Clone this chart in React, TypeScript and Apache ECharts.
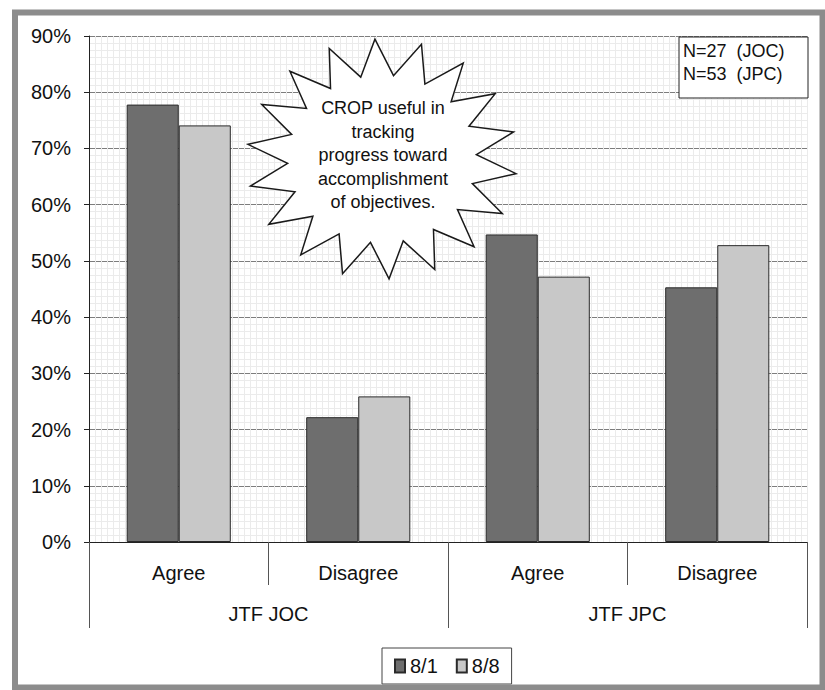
import React, { useEffect, useRef } from "react";
import * as echarts from "echarts";

const categories = ["JOC|Agree", "JOC|Disagree", "JPC|Agree", "JPC|Disagree"];
const groups = ["JTF JOC", "JTF JPC"];
const series81 = [77.8, 22.2, 54.7, 45.3];
const series88 = [74.1, 25.9, 47.2, 52.8];
const seriesNames = ["8/1", "8/8"];
const yTicks = { min: 0, max: 90, interval: 10 };
const calloutLines = ["CROP useful in", "tracking", "progress toward", "accomplishment", "of objectives."];
const noteLines = ["N=27  (JOC)", "N=53  (JPC)"];

const FONT = '"Liberation Sans", Arial, sans-serif';

function starPoints(cx: number, cy: number, rx: number, ry: number, n: number, inner: number, offsetDeg: number) {
  const pts: number[][] = [];
  for (let i = 0; i < n * 2; i++) {
    const a = ((-90 + offsetDeg + (i * 180) / n) * Math.PI) / 180;
    const r = i % 2 === 0 ? 1 : inner;
    pts.push([cx + rx * r * Math.cos(a), cy + ry * r * Math.sin(a)]);
  }
  return pts;
}

export default function App() {
  const ref = useRef<HTMLDivElement>(null);
  useEffect(() => {
    document.body.style.margin = "0";
    const chart = echarts.init(ref.current!, null, { renderer: "svg" });
    const option: any = {
      animation: false,
      backgroundColor: "#ffffff",
      grid: { left: 89, right: 18, top: 36, bottom: 148, containLabel: false, show: false },
      xAxis: [
        {
          type: "category",
          position: "bottom",
          data: categories,
          axisLine: { show: true, lineStyle: { color: "#222", width: 1 } },
          axisTick: { show: true, length: 43, interval: 0, lineStyle: { color: "#555" } },
          axisLabel: {
            margin: 21,
            fontSize: 20,
            color: "#111",
            fontFamily: FONT,
            interval: 0,
            formatter: (v: string) => v.split("|")[1],
          },
          splitLine: { show: false },
        },
        {
          type: "category",
          position: "bottom",
          data: groups,
          axisLine: { show: false },
          axisTick: { show: true, length: 86, interval: 0, lineStyle: { color: "#555" } },
          axisLabel: { margin: 62, fontSize: 20, color: "#111", fontFamily: FONT, interval: 0 },
          splitLine: { show: false },
        },
        {
          type: "value",
          position: "top",
          min: 0,
          max: 120,
          interval: 1,
          axisLine: { show: false },
          axisTick: { show: false },
          axisLabel: { show: false },
          splitLine: { show: true, lineStyle: { color: "#ebebeb", width: 1 } },
        },
      ],
      yAxis: {
        type: "value",
        min: yTicks.min,
        max: yTicks.max,
        interval: yTicks.interval,
        axisLine: { show: true, lineStyle: { color: "#222", width: 1 } },
        axisTick: { show: true, length: 5, lineStyle: { color: "#222" } },
        axisLabel: { formatter: "{value}%", fontSize: 20, color: "#111", fontFamily: FONT, margin: 18 },
        splitLine: { show: true, lineStyle: { color: "#7d7d7d", width: 1 } },
        minorTick: { show: false, splitNumber: 8 },
        minorSplitLine: { show: true, lineStyle: { color: "#ebebeb", width: 1 } },
      },
      legend: {
        data: seriesNames,
        left: 382,
        top: 648,
        orient: "horizontal",
        padding: [8, 12],
        itemGap: 18,
        itemWidth: 10,
        itemHeight: 13,
        icon: "rect",
        borderColor: "#444",
        borderWidth: 1,
        backgroundColor: "#fff",
        textStyle: { fontSize: 20, color: "#111", fontFamily: FONT },
      },
      series: [
        {
          name: seriesNames[0],
          type: "bar",
          xAxisIndex: 0,
          yAxisIndex: 0,
          data: series81,
          barGap: "0%",
          barCategoryGap: "42%",
          itemStyle: { color: "#6e6e6e", borderColor: "#2a2a2a", borderWidth: 1 },
          z: 3,
        },
        {
          name: seriesNames[1],
          type: "bar",
          xAxisIndex: 0,
          yAxisIndex: 0,
          data: series88,
          barGap: "0%",
          barCategoryGap: "42%",
          itemStyle: { color: "#c8c8c8", borderColor: "#2a2a2a", borderWidth: 1 },
          z: 3,
        },
      ],
      graphic: [
        {
          type: "rect",
          z: 200,
          shape: { x: 15, y: 12.5, width: 807.5, height: 675 },
          style: { fill: null, stroke: "#8c8c8c", lineWidth: 6 },
          silent: true,
        },
        {
          type: "polygon",
          z: 100,
          shape: { points: starPoints(382, 159, 135, 120, 18, 0.7, -3) },
          style: { fill: "#ffffff", stroke: "#1a1a1a", lineWidth: 1.5 },
        },
        {
          type: "text",
          z: 101,
          style: {
            text: calloutLines.join("\n"),
            x: 383,
            y: 155,
            textAlign: "center",
            textVerticalAlign: "middle",
            fontSize: 18,
            fontFamily: FONT,
            lineHeight: 23.5,
            fill: "#111",
          },
        },
        {
          type: "rect",
          z: 100,
          shape: { x: 679, y: 37, width: 129, height: 61 },
          style: { fill: "#ffffff", stroke: "#222", lineWidth: 1 },
        },
        {
          type: "text",
          z: 101,
          style: {
            text: noteLines.join("\n"),
            x: 683,
            y: 62,
            textAlign: "left",
            textVerticalAlign: "middle",
            fontSize: 18,
            fontFamily: FONT,
            lineHeight: 23,
            fill: "#111",
          },
        },
      ],
    };
    chart.setOption(option);
    return () => chart.dispose();
  }, []);
  return <div ref={ref} style={{ position: "fixed", left: 0, top: 0, width: 825, height: 690 }} />;
}
